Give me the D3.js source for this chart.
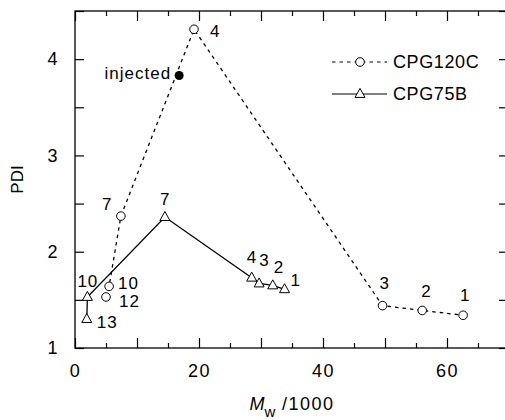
<!DOCTYPE html>
<html>
<head>
<meta charset="utf-8">
<script src="https://cdn.jsdelivr.net/npm/d3@7"></script>
<style>
  body { margin: 0; background: #fff; }
  svg { display: block; font-family: "Liberation Sans", Arial, sans-serif; }
  .tick text { font-family: "Liberation Sans", Arial, sans-serif; font-size: 18px; letter-spacing: 1.5px; fill: #000; }
  .tick line { stroke: #000; stroke-width: 1.2; }
  .label { font-size: 17px; letter-spacing: 1px; }
</style>
</head>
<body>
<svg id="chart" width="505" height="420"></svg>
<script>
"use strict";

/********/
/* data */
/********/

const cpg120cMw = [5.0, 5.5, 7.4, 19.2, 49.6, 56.0, 62.6];
const cpg120cPdi = [1.53, 1.64, 2.37, 4.31, 1.44, 1.39, 1.34];
const cpg120cFractions = ["12", "10", "7", "4", "3", "2", "1"];

const cpg75bMw = [1.9, 2.0, 14.5, 28.5, 29.7, 31.9, 33.8];
const cpg75bPdi = [1.3, 1.53, 2.36, 1.73, 1.67, 1.65, 1.61];
const cpg75bFractions = ["13", "10", "7", "4", "3", "2", "1"];

const injectedMw = [16.8];
const injectedPdi = [3.83];

const xMajorTicks = [0, 10, 20, 30, 40, 50, 60, 70];
const xMinorTicks = [5, 15, 25, 35, 45, 55, 65];
const xLabelTicks = [0, 20, 40, 60];
const yTicks = [1, 1.5, 2, 2.5, 3, 3.5, 4, 4.5];

// label offsets (px) for the fraction numbers, same order as the data
const cpg120cLabelOffsets = [[13, 10], [9, 3], [-19, -6], [16, 8], [-3, -17], [-1, -13], [-3, -14]];
const cpg75bLabelOffsets = [[10, 9], [-10, -10], [-5, -12], [-5, -15], [0, -17], [1, -12], [6, -3]];

/**********/
/* layout */
/**********/

const margin = { top: 11, right: -4, bottom: 72, left: 75 };
const width = 505, height = 420;

const svg = d3.select("#chart");

const x = d3.scaleLinear().domain([0, 70]).range([margin.left, width - margin.right]);
const y = d3.scaleLinear().domain([1, 4.5]).range([height - margin.bottom, margin.top]);

const cpg120c = cpg120cMw.map((m, i) => ({ mw: m, pdi: cpg120cPdi[i], frac: cpg120cFractions[i], off: cpg120cLabelOffsets[i] }));
const cpg75b = cpg75bMw.map((m, i) => ({ mw: m, pdi: cpg75bPdi[i], frac: cpg75bFractions[i], off: cpg75bLabelOffsets[i] }));
const injected = injectedMw.map((m, i) => ({ mw: m, pdi: injectedPdi[i] }));

/********/
/* axes */
/********/

function styleAxis(g) {
  g.select(".domain").remove();
}

// bottom
svg.append("g")
  .attr("transform", `translate(0,${y(1)})`)
  .call(d3.axisBottom(x).tickValues(xMinorTicks).tickSize(-5).tickFormat(""))
  .call(styleAxis);
svg.append("g")
  .attr("transform", `translate(0,${y(1)})`)
  .call(d3.axisBottom(x).tickValues(xMajorTicks).tickSize(-10).tickPadding(16)
    .tickFormat(d => (xLabelTicks.includes(d) ? d : "")))
  .call(styleAxis);

// top
svg.append("g")
  .attr("transform", `translate(0,${y(4.5)})`)
  .call(d3.axisTop(x).tickValues(xMinorTicks).tickSize(-5).tickFormat(""))
  .call(styleAxis);
svg.append("g")
  .attr("transform", `translate(0,${y(4.5)})`)
  .call(d3.axisTop(x).tickValues(xMajorTicks).tickSize(-10).tickFormat(""))
  .call(styleAxis);

// left
svg.append("g")
  .attr("transform", `translate(${x(0)},0)`)
  .call(d3.axisLeft(y).tickValues(yTicks).tickSize(-9).tickPadding(16)
    .tickFormat(d => (Number.isInteger(d) && d < 4.5 ? d : "")))
  .call(styleAxis);

// right
svg.append("g")
  .attr("transform", `translate(${x(70)},0)`)
  .call(d3.axisRight(y).tickValues(yTicks).tickSize(-10).tickFormat(""))
  .call(styleAxis);

// frame
svg.append("rect")
  .attr("x", x(0))
  .attr("y", y(4.5))
  .attr("width", x(70) - x(0))
  .attr("height", y(1) - y(4.5))
  .attr("fill", "none")
  .attr("stroke", "#000")
  .attr("stroke-width", 1.3);

// axis titles
svg.append("text")
  .attr("transform", `translate(23,${(y(1) + y(4.5)) / 2}) rotate(-90)`)
  .attr("text-anchor", "middle")
  .attr("font-size", 17)
  .text("PDI");

const xTitle = svg.append("text")
  .attr("x", (x(0) + x(70)) / 2)
  .attr("y", 410)
  .attr("text-anchor", "middle")
  .attr("font-size", 18);
xTitle.append("tspan").attr("font-style", "italic").text("M");
xTitle.append("tspan").attr("font-size", 15).attr("dy", 7).text("w");
xTitle.append("tspan").attr("dy", -7).attr("letter-spacing", 1.5).text(" /1000");

/*********/
/* marks */
/*********/

const line = d3.line().x(d => x(d.mw)).y(d => y(d.pdi));

function triangle(s) {
  const h = s * 0.9;
  return `M0,${-h * 0.62}L${s / 2},${h * 0.38}L${-s / 2},${h * 0.38}Z`;
}

svg.append("path")
  .datum(cpg120c)
  .attr("d", line)
  .attr("fill", "none")
  .attr("stroke", "#000")
  .attr("stroke-width", 1.3)
  .attr("stroke-dasharray", "3.5,4");

svg.append("path")
  .datum(cpg75b)
  .attr("d", line)
  .attr("fill", "none")
  .attr("stroke", "#000")
  .attr("stroke-width", 1.3);

svg.append("g")
  .selectAll("circle")
  .data(cpg120c)
  .join("circle")
  .attr("cx", d => x(d.mw))
  .attr("cy", d => y(d.pdi))
  .attr("r", 4.3)
  .attr("fill", "#fff")
  .attr("stroke", "#000")
  .attr("stroke-width", 1);

svg.append("g")
  .selectAll("path")
  .data(cpg75b)
  .join("path")
  .attr("transform", d => `translate(${x(d.mw)},${y(d.pdi)})`)
  .attr("d", triangle(10))
  .attr("fill", "#fff")
  .attr("stroke", "#000")
  .attr("stroke-width", 1);

svg.append("g")
  .selectAll("circle")
  .data(injected)
  .join("circle")
  .attr("cx", d => x(d.mw))
  .attr("cy", d => y(d.pdi))
  .attr("r", 4.5)
  .attr("fill", "#000");

/**********/
/* labels */
/**********/

svg.append("g")
  .selectAll("text")
  .data(cpg120c.concat(cpg75b))
  .join("text")
  .attr("class", "label")
  .attr("x", d => x(d.mw) + d.off[0])
  .attr("y", d => y(d.pdi) + d.off[1])
  .text(d => d.frac);

svg.append("text")
  .attr("class", "label")
  .attr("x", x(injectedMw[0]) - 8)
  .attr("y", y(injectedPdi[0]) + 3)
  .attr("text-anchor", "end")
  .attr("letter-spacing", 0.5)
  .text("injected");

/**********/
/* legend */
/**********/

const legend = svg.append("g").attr("transform", "translate(332,0)");

legend.append("line")
  .attr("x1", 0).attr("x2", 55).attr("y1", 62).attr("y2", 62)
  .attr("stroke", "#000").attr("stroke-width", 1.2).attr("stroke-dasharray", "3.5,4");
legend.append("circle")
  .attr("cx", 28).attr("cy", 62).attr("r", 4.3)
  .attr("fill", "#fff").attr("stroke", "#000");
legend.append("text")
  .attr("x", 61).attr("y", 68).attr("font-size", 18).attr("letter-spacing", 0.6)
  .text("CPG120C");

legend.append("line")
  .attr("x1", 0).attr("x2", 55).attr("y1", 94).attr("y2", 94)
  .attr("stroke", "#000").attr("stroke-width", 1.2);
legend.append("path")
  .attr("transform", "translate(28,94)")
  .attr("d", triangle(10))
  .attr("fill", "#fff").attr("stroke", "#000");
legend.append("text")
  .attr("x", 61).attr("y", 100).attr("font-size", 18).attr("letter-spacing", 0.6)
  .text("CPG75B");
</script>
</body>
</html>
